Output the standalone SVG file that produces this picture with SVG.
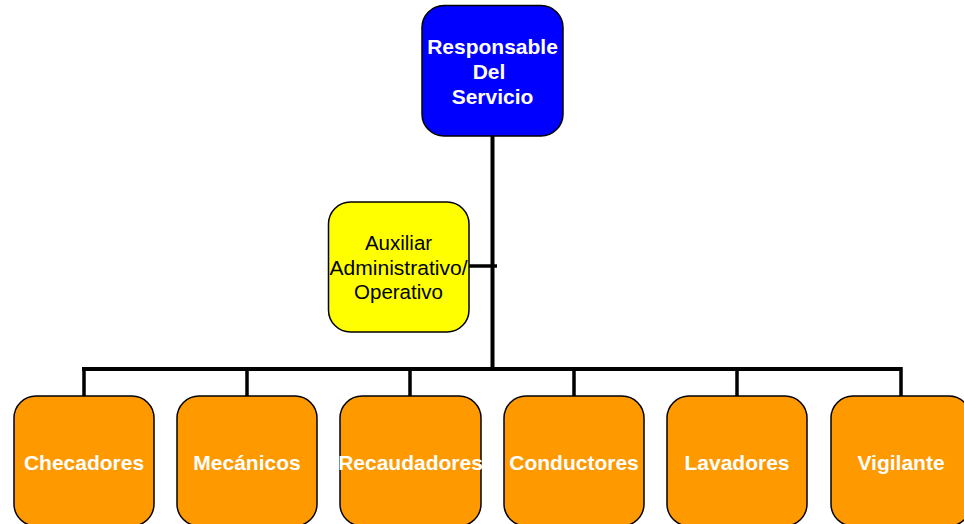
<svg xmlns="http://www.w3.org/2000/svg" width="964" height="524" viewBox="0 0 964 524">
  <style>
    .box { stroke: #000; stroke-width: 1.5; }
    .head { fill: #0000FF; }
    .aux { fill: #FFFF00; }
    .unit { fill: #FF9900; }
    .lbl-w { font-family: "Liberation Sans", Arial, sans-serif; font-weight: bold; font-size: 21px; fill: #fff; text-anchor: middle; }
    .lbl-k { font-family: "Liberation Sans", Arial, sans-serif; font-size: 20.5px; fill: #000; text-anchor: middle; }
    .wire { stroke: #000; fill: none; stroke-linecap: butt; }
  </style>
  <rect width="964" height="524" fill="#fff"/>

  <!-- connectors -->
  <g id="connectors">
    <path class="wire" stroke-width="4" d="M492.5 136 V369"/>
    <path class="wire" stroke-width="3.5" d="M469 266 H497"/>
    <path class="wire" stroke-width="4" d="M82 369 H902"/>
    <path class="wire" stroke-width="3.5" d="M84 367 V396 M247 369 V396 M410 369 V396 M574 369 V396 M737 369 V396 M901 367 V396"/>
  </g>

  <!-- top node -->
  <g id="responsable">
    <rect class="box head" x="422" y="5.5" width="141" height="130.5" rx="22"/>
    <text class="lbl-w" x="492.5" y="54">Responsable</text>
    <text class="lbl-w" x="489" y="79">Del</text>
    <text class="lbl-w" x="492.5" y="104">Servicio</text>
  </g>

  <!-- staff node -->
  <g id="auxiliar">
    <rect class="box aux" x="328.5" y="202" width="140.5" height="130" rx="22"/>
    <text class="lbl-k" x="398.5" y="250">Auxiliar</text>
    <text class="lbl-k" x="398.5" y="275" textLength="138" lengthAdjust="spacingAndGlyphs">Administrativo/</text>
    <text class="lbl-k" x="398.5" y="299">Operativo</text>
  </g>

  <!-- operating units -->
  <g id="checadores">
    <rect class="box unit" x="14" y="396" width="140" height="130" rx="22"/>
    <text class="lbl-w" x="84" y="470">Checadores</text>
  </g>
  <g id="mecanicos">
    <rect class="box unit" x="177" y="396" width="140" height="130" rx="22"/>
    <text class="lbl-w" x="247" y="470">Mecánicos</text>
  </g>
  <g id="recaudadores">
    <rect class="box unit" x="340" y="396" width="141" height="130" rx="22"/>
    <text class="lbl-w" x="410.5" y="470">Recaudadores</text>
  </g>
  <g id="conductores">
    <rect class="box unit" x="504" y="396" width="140" height="130" rx="22"/>
    <text class="lbl-w" x="574" y="470">Conductores</text>
  </g>
  <g id="lavadores">
    <rect class="box unit" x="667" y="396" width="140" height="130" rx="22"/>
    <text class="lbl-w" x="737" y="470">Lavadores</text>
  </g>
  <g id="vigilante">
    <rect class="box unit" x="831" y="396" width="140" height="130" rx="22"/>
    <text class="lbl-w" x="901" y="470">Vigilante</text>
  </g>
</svg>
